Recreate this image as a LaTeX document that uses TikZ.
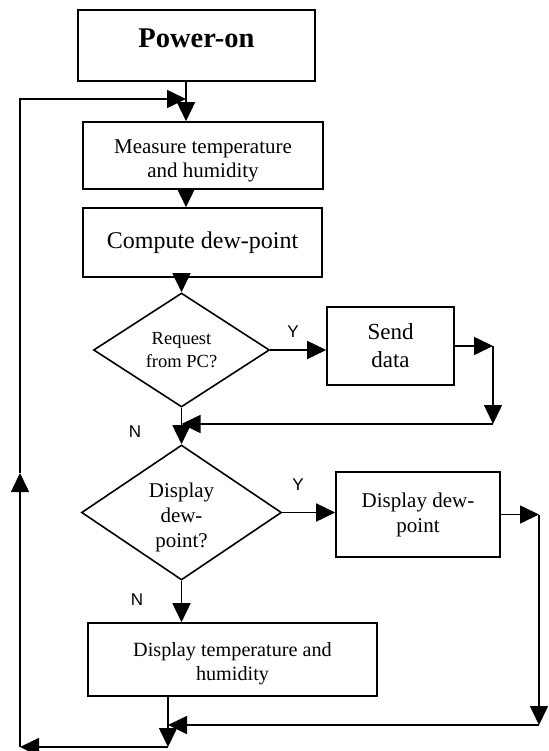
\documentclass[tikz,border=0pt]{standalone}
\usepackage{fontspec}
\setmainfont{Liberation Serif}
\newfontfamily\labelfont{Liberation Sans}
\usetikzlibrary{arrows.meta,shapes.geometric}
\begin{document}
\begin{tikzpicture}[x=1pt,y=-1pt,
  line width=1.6pt,
  arr/.style={-{Triangle[length=19pt,width=18pt]}},
  boxnode/.style={draw, rectangle, inner sep=0pt, align=center},
  decision/.style={draw, diamond, inner sep=0pt, align=center},
  yn/.style={font=\labelfont\fontsize{17}{17}\selectfont, inner sep=0pt},
]
\useasboundingbox (0,0) rectangle (548,751);
\node[boxnode, minimum width=237pt, minimum height=71pt, font=\bfseries\fontsize{28.5}{32}\selectfont] (pow) at (196.5,45.5) {Power-on\rule[-15pt]{0pt}{15pt}};
\node[boxnode, minimum width=240pt, minimum height=67pt, font=\fontsize{21}{24}\selectfont] (meas) at (203,155.5) {\rule{0pt}{25pt}Measure temperature\\and humidity};
\node[boxnode, minimum width=239pt, minimum height=69pt, font=\fontsize{24}{28}\selectfont] (comp) at (202.5,242.5) {Compute dew-point};
\node[decision, minimum width=176pt, minimum height=114pt, shape aspect=1.54, font=\fontsize{18.5}{23}\selectfont] (req) at (181.5,350) {Request\\from PC?};
\node[boxnode, minimum width=127pt, minimum height=78pt, font=\fontsize{23}{28}\selectfont] (send) at (390.5,346) {Send\\data};
\node[decision, minimum width=200pt, minimum height=135pt, shape aspect=1.48, font=\fontsize{21}{25}\selectfont] (disp) at (181.5,512.5) {\rule{0pt}{25pt}Display\\dew-\\point?};
\node[boxnode, minimum width=164pt, minimum height=85pt, font=\fontsize{21}{25}\selectfont] (dd) at (418,514.5) {Display dew-\\point};
\node[boxnode, minimum width=289pt, minimum height=73pt, font=\fontsize{20.2}{24}\selectfont] (dth) at (232.5,659.5) {\rule{0pt}{22pt}Display temperature and\\humidity};

\node[yn] (y1) at (293,332) {Y};
\node[yn] (y2) at (298,485) {Y};
\node[yn] (n1) at (135,432) {N};
\node[yn] (n2) at (137,600) {N};

\coordinate (j1) at (186,99);
\coordinate (s1) at (493,346);
\coordinate (s2) at (493,424);
\coordinate (m1) at (181.5,424);
\coordinate (d1) at (539,514.5);
\coordinate (d2) at (539,725);
\coordinate (m2) at (168,725);
\coordinate (b1) at (168,747);
\coordinate (b2) at (20,747);
\coordinate (up) at (20,473);
\coordinate (t1) at (20,99);

\draw (j1 |- pow.south) -- (j1);
\draw[arr] (j1) -- (j1 |- meas.north);
\draw[arr] (j1 |- meas.south) -- (j1 |- comp.north);
\draw[arr] (req.north |- comp.south) -- (req.north);
\draw[arr] (req.east) -- (send.west |- req.east);
\draw[arr] (send.east) -- (s1);
\draw[arr] (s1) -- (s2);
\draw[arr] (s2) -- (m1);
\draw[arr] (req.south) -- (disp.north);
\draw[arr] (disp.east) -- (dd.west |- disp.east);
\draw[arr] (dd.east) -- (d1);
\draw[arr] (d1) -- (d2);
\draw[arr] (d2) -- (m2);
\draw[arr] (disp.south) -- (disp.south |- dth.north);
\draw[arr] (b1 |- dth.south) -- (b1);
\draw[arr] (b1) -- (b2);
\draw[arr] (b2) -- (up);
\draw[arr] (up) -- (t1) -- (j1);
\end{tikzpicture}
\end{document}
